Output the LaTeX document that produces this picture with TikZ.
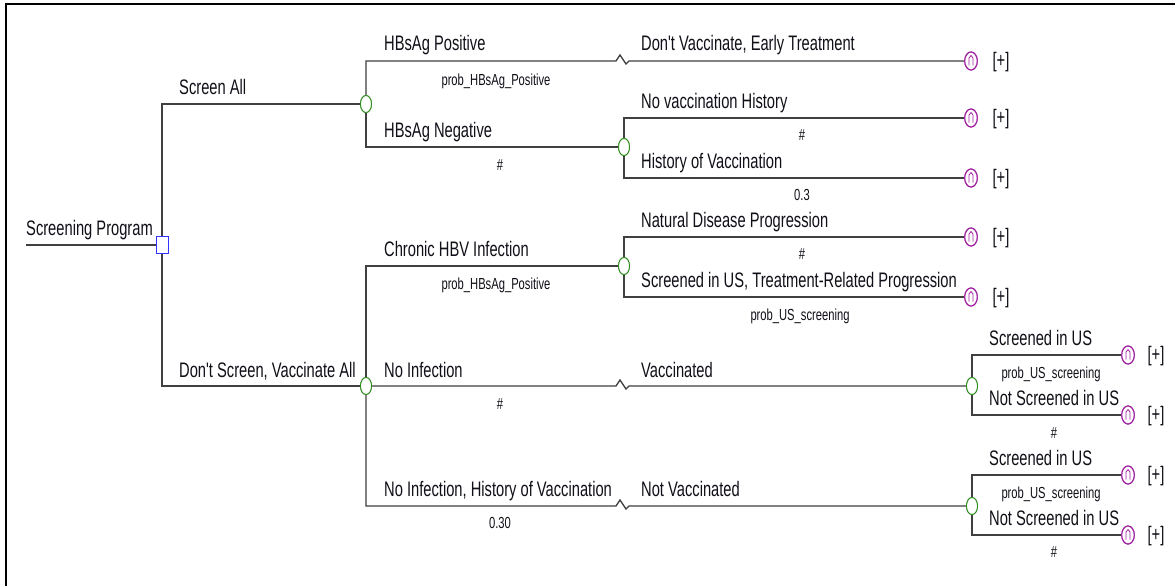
\documentclass[tikz,border=0pt]{standalone}
\usepackage{fontspec}
\setmainfont[FakeStretch=0.7]{Liberation Sans}
\newfontfamily\lblfont[FakeStretch=0.7]{Liberation Sans}
\usetikzlibrary{shapes.geometric}
\definecolor{ln}{HTML}{404040}
\definecolor{chg}{HTML}{2E8B1E}
\definecolor{dec}{HTML}{3333FF}
\definecolor{term}{HTML}{A020A0}
\definecolor{txt}{HTML}{101018}
\begin{document}
\begin{tikzpicture}[x=1pt,y=-1pt,
  br/.style={draw=ln, line width=1.3pt},
  lab/.style={anchor=base west, inner sep=0, font=\lblfont\fontsize{21}{24}\selectfont, text=txt},
  prob/.style={anchor=base, inner sep=0, font=\lblfont\fontsize{16}{18}\selectfont, text=txt},
  plus/.style={anchor=center, inner sep=0, font=\lblfont\fontsize{21}{24}\selectfont, text=txt},
  chance/.style={ellipse, draw=chg, fill=white, line width=0.9pt, minimum width=11pt, minimum height=17pt, inner sep=0},
  decision/.style={rectangle, draw=dec, fill=white, line width=1pt, minimum width=12pt, minimum height=17pt, inner sep=0},
  terminal/.style={ellipse, draw=term, fill=white, line width=1.1pt, minimum width=12.5pt, minimum height=18pt, inner sep=0,
    path picture={\draw[term, line width=0.8pt]
      ([shift={(-2pt,-4.5pt)}]path picture bounding box.center) -- ([shift={(-2pt,3pt)}]path picture bounding box.center)
      -- ([shift={(0pt,5.5pt)}]path picture bounding box.center) -- ([shift={(2pt,3pt)}]path picture bounding box.center)
      -- ([shift={(2pt,-4.5pt)}]path picture bounding box.center);}},
]
\useasboundingbox (0,0) rectangle (1175,586);
\fill[white] (0,0) rectangle (1175,586);
\draw[line width=2.5pt, black] (6,586) -- (6,4) -- (1175,4);

% nodes
\coordinate (start) at (26,245);
\node[decision] (d) at (162,245) {};
\node[chance] (c1) at (366,104) {};
\node[chance] (c3) at (366,386) {};
\node[chance] (c2) at (624,147) {};
\node[chance] (c4) at (624,266) {};
\node[chance] (c5) at (972,386) {};
\node[chance] (c6) at (972,506) {};
\node[terminal] (t1) at (971,61) {};
\node[terminal] (t2) at (971,118) {};
\node[terminal] (t3) at (971,178) {};
\node[terminal] (t4) at (971,237) {};
\node[terminal] (t5) at (971,297) {};
\node[terminal] (t6) at (1128,355) {};
\node[terminal] (t7) at (1128,415) {};
\node[terminal] (t8) at (1128,475) {};
\node[terminal] (t9) at (1128,535) {};

% connectors
\draw[br] (start) -- (d.west);
\draw[br] (d.north) |- (c1.west);
\draw[br] (d.south) |- (c3.west);
\draw[br] (c1.north) |- (616,61) -- ++(4,-6) -- ++(6,9) -- ++(3,-3) -- (t1.west);
\draw[br] (c1.south) |- (c2.west);
\draw[br] (c2.north) |- (t2.west);
\draw[br] (c2.south) |- (t3.west);
\draw[br] (c3.north) |- (c4.west);
\draw[br] (c3.east) -- (616,386) -- ++(4,-6) -- ++(6,9) -- ++(3,-3) -- (c5.west);
\draw[br] (c3.south) |- (616,506) -- ++(4,-6) -- ++(6,9) -- ++(3,-3) -- (c6.west);
\draw[br] (c4.north) |- (t4.west);
\draw[br] (c4.south) |- (t5.west);
\draw[br] (c5.north) |- (t6.west);
\draw[br] (c5.south) |- (t7.west);
\draw[br] (c6.north) |- (t8.west);
\draw[br] (c6.south) |- (t9.west);

% redraw nodes on top
\node[decision] at (d) {};
\foreach \n in {c1,c2,c3,c4,c5,c6} {\node[chance] at (\n) {};}
\foreach \n in {t1,t2,t3,t4,t5,t6,t7,t8,t9} {\node[terminal] at (\n) {};}

% labels
\node[lab] (l0) at (26,235) {Screening Program};
\node[lab] (l1) at (179,94) {Screen All};
\node[lab] (l2) at (179,377) {Don't Screen, Vaccinate All};
\node[lab] (l3) at (384,51) {HBsAg Positive};
\node[prob] (p3) at (496,85) {prob\_HBsAg\_Positive};
\node[lab] (l4) at (641,51) {Don't Vaccinate, Early Treatment};
\node[lab] (l5) at (384,137) {HBsAg Negative};
\node[prob] (p5) at (500,170) {\#};
\node[lab] (l6) at (641,108) {No vaccination History};
\node[prob] (p6) at (802,140) {\#};
\node[lab] (l7) at (641,168) {History of Vaccination};
\node[prob] (p7) at (802,200) {0.3};
\node[lab] (l8) at (384,256) {Chronic HBV Infection};
\node[prob] (p8) at (496,289) {prob\_HBsAg\_Positive};
\node[lab] (l9) at (641,227) {Natural Disease Progression};
\node[prob] (p9) at (802,259) {\#};
\node[lab] (l10) at (641,287) {Screened in US, Treatment-Related Progression};
\node[prob] (p10) at (800,320) {prob\_US\_screening};
\node[lab] (l11) at (384,377) {No Infection};
\node[prob] (p11) at (500,409) {\#};
\node[lab] (l12) at (641,377) {Vaccinated};
\node[lab] (l13) at (384,496) {No Infection, History of Vaccination};
\node[prob] (p13) at (500,528) {0.30};
\node[lab] (l14) at (641,496) {Not Vaccinated};
\node[lab] (l15) at (989,345) {Screened in US};
\node[prob] (p15) at (1051,378) {prob\_US\_screening};
\node[lab] (l16) at (989,405) {Not Screened in US};
\node[prob] (p16) at (1054,438) {\#};
\node[lab] (l17) at (989,465) {Screened in US};
\node[prob] (p17) at (1051,498) {prob\_US\_screening};
\node[lab] (l18) at (989,525) {Not Screened in US};
\node[prob] (p18) at (1054,557) {\#};

% [+] markers
\foreach \x/\y in {1001/61,1001/118,1001/178,1001/237,1001/297,1156/355,1156/415,1156/475,1156/535}
  {\node[plus] at (\x,\y+1.5) {[+]};}
\end{tikzpicture}
\end{document}
